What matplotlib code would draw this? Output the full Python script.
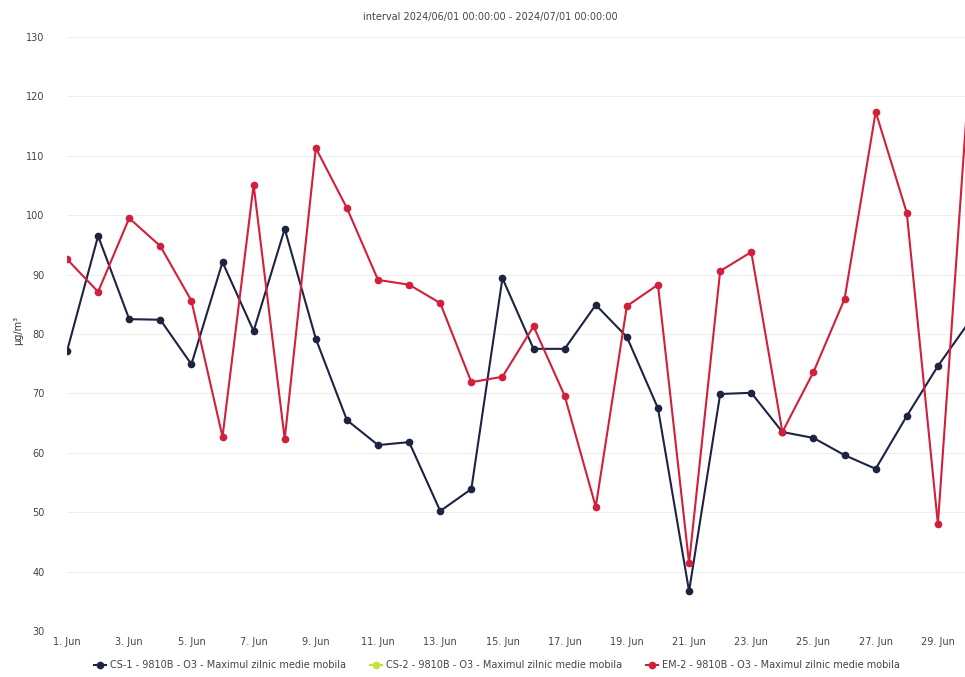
import matplotlib.pyplot as plt
from matplotlib.lines import Line2D
import numpy as np

# daily values, June 2024 (ug/m3)
days = np.arange(1, 31)
cs1 = [77.1, 96.5, 82.5, 82.4, 74.9, 92.1, 80.5, 97.7, 79.2, 65.5,
       61.3, 61.8, 50.2, 53.9, 89.4, 77.5, 77.5, 84.9, 79.5, 67.5,
       36.7, 69.9, 70.1, 63.5, 62.5, 59.6, 57.3, 66.2, 74.6, 82.0]
em2 = [92.6, 87.1, 99.5, 94.8, 85.6, 62.7, 105.1, 62.3, 111.3, 101.2,
       89.1, 88.3, 85.2, 71.9, 72.8, 81.3, 69.6, 50.9, 84.7, 88.3,
       41.4, 90.6, 93.8, 63.5, 73.6, 85.9, 117.4, 100.4, 48.0, 123.0]

series_names = ['CS-1 - 9810B - O3 - Maximul zilnic medie mobila',
                'CS-2 - 9810B - O3 - Maximul zilnic medie mobila',
                'EM-2 - 9810B - O3 - Maximul zilnic medie mobila']
series_colors = ['#1e2342', '#c8e03a', '#d11f3c']

title = 'interval 2024/06/01 00:00:00 - 2024/07/01 00:00:00'
yticks = np.arange(30, 131, 10)
xticks = np.arange(1, 31, 2)

plt.rcParams.update({'font.family': 'DejaVu Sans', 'font.size': 7})

W, H = 965, 677
fig = plt.figure(figsize=(W / 100, H / 100), dpi=100)
x0, x1 = 67, 969
y_top, y_bot = 37, 631
ax = fig.add_axes([x0 / W, (H - y_bot) / H, (x1 - x0) / W, (y_bot - y_top) / H])

ax.plot(days, cs1, color=series_colors[0], lw=1.5, marker='o', ms=4.5, zorder=3)
ax.plot(days, em2, color=series_colors[2], lw=1.5, marker='o', ms=4.5, zorder=3)

ax.set_xlim(1, 30)
ax.set_ylim(30, 130)
ax.set_yticks(yticks)
ax.set_xticks(xticks)
ax.set_xticklabels([f'{d}. Jun' for d in xticks])
ax.tick_params(length=0, colors='#444444', labelsize=7)
ax.tick_params(axis='y', pad=16)
ax.tick_params(axis='x', pad=4)
ax.grid(axis='y', color='#eeeeee', lw=0.8)
for s in ax.spines.values():
    s.set_visible(False)
ax.set_axisbelow(True)

fig.text(18 / W, 1 - 330 / H, 'µg/m³', rotation=90, ha='center', va='center',
         fontsize=7, color='#333333')
fig.text(490 / W, 1 - 17 / H, title, ha='center', va='center',
         fontsize=7, color='#444444')

handles = [Line2D([], [], color=c, lw=1.5, marker='o', ms=4.5) for c in series_colors]
fig.legend(handles, series_names, loc='center', bbox_to_anchor=(497 / W, 1 - 665 / H),
           ncol=3, frameon=False, fontsize=7, handlelength=1.2, columnspacing=2.5,
           handletextpad=0.4, labelcolor='#444444')

fig.savefig('out.png', dpi=100)
